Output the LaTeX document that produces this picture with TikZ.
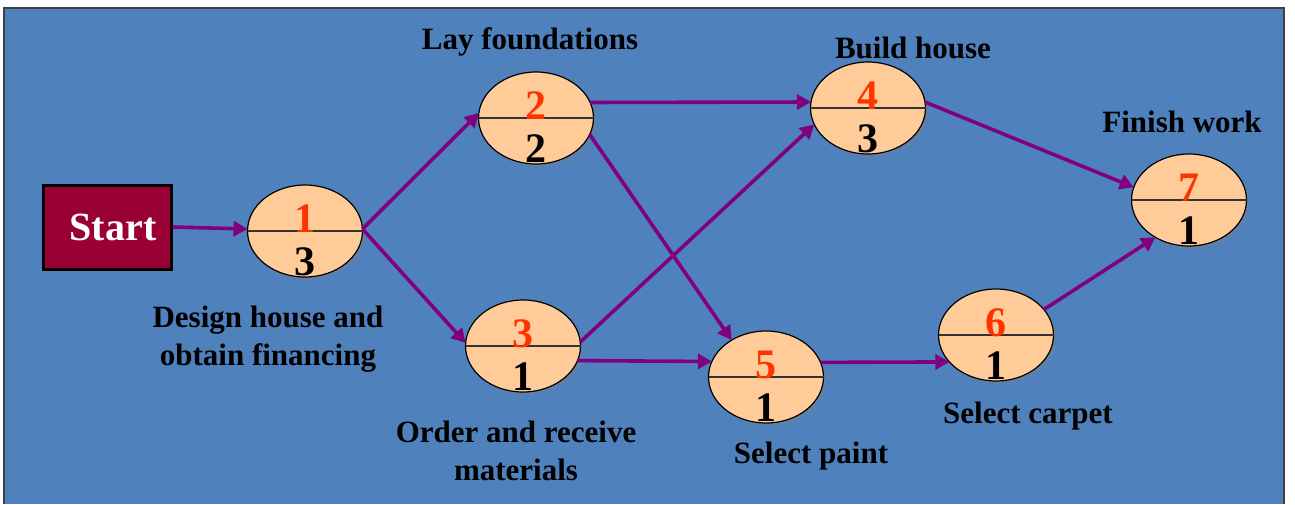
\documentclass[tikz,border=0pt]{standalone}
\usepackage{fontspec}
\setmainfont{Liberation Serif}
\usetikzlibrary{calc,positioning,shapes.geometric,shadows,arrows.meta}
\definecolor{bgblue}{RGB}{79,129,189}
\definecolor{startred}{RGB}{153,0,51}
\definecolor{peach}{RGB}{255,204,153}
\definecolor{arrowpurple}{RGB}{128,0,128}
\definecolor{numred}{RGB}{255,51,0}
\newcommand{\evnums}[3]{%
	\draw[line width=1.2pt, black!80] (#1.west) -- (#1.east);
	\node[topnum] (#1t) at ($(#1)+(0,1)$) {#2};
	\node[botnum] (#1b) at ($(#1)+(0,44)$) {#3};
}

\begin{document}
\begin{tikzpicture}[x=1pt, y=-1pt,
	event/.style={ellipse, draw, line width=1.2pt, fill=peach, minimum width=115pt, minimum height=92pt, inner sep=0pt, outer sep=0pt, drop shadow={shadow xshift=3pt, shadow yshift=-3pt, opacity=0.35}},
	startbox/.style={draw, line width=3pt, fill=startred, text=white, font=\fontsize{40}{40}\selectfont\bfseries, minimum width=128pt, minimum height=84pt, drop shadow={shadow xshift=3pt, shadow yshift=-3pt, opacity=0.3}},
	topnum/.style={font=\fontsize{42}{42}\selectfont\bfseries, text=numred, anchor=base, inner sep=0pt},
	botnum/.style={font=\fontsize{42}{42}\selectfont\bfseries, text=black, anchor=base, inner sep=0pt},
	lbl/.style={font=\fontsize{31}{38}\selectfont\bfseries, inner sep=0pt, align=center},
	arr/.style={draw=arrowpurple, line width=3.6pt, -{Triangle[length=14pt, width=15pt]}}]
	\useasboundingbox (0,0) rectangle (1295,504);
	\fill[bgblue] (4,8) rectangle (1284,504);
	\draw[line width=2pt, black!75] (4,504) -- (4,8) -- (1284,8) -- (1284,504);
	
	\node[startbox] (start) at (107,227) {\hspace{12pt}Start};
	\node[event] (n1) at (305,231) {};
	\node[event] (n2) at ($(n1)+(231,-113)$) {};
	\node[event] (n3) at ($(n1)+(218,115)$) {};
	\node[event] (n4) at ($(n2)+(332,-10)$) {};
	\node[event] (n5) at ($(n3)+(243,31)$) {};
	\node[event] (n6) at ($(n5)+(230,-42)$) {};
	\node[event] (n7) at ($(n6)+(193,-135)$) {};
	
	\evnums{n1}{1}{3}
	\evnums{n2}{2}{2}
	\evnums{n3}{3}{1}
	\evnums{n4}{4}{3}
	\evnums{n5}{5}{1}
	\evnums{n6}{6}{1}
	\evnums{n7}{7}{1}
	
	\node[lbl] (l1) at ($(n1)+(-37,108)$) {Design house and\\obtain financing};
	\node[lbl, anchor=base] (l2) at ($(n2)+(-6,-69)$) {Lay foundations};
	\node[lbl] (l3) at ($(n3)+(-7,105)$) {Order and receive\\materials};
	\node[lbl, anchor=base] (l4) at ($(n4)+(45,-50)$) {Build house};
	\node[lbl, anchor=base] (l5) at ($(n5)+(45,86)$) {Select paint};
	\node[lbl, anchor=base] (l6) at ($(n6)+(32,88)$) {Select carpet};
	\node[lbl, anchor=base] (l7) at ($(n7)+(-7,-68)$) {Finish work};
	
	\draw[arr] (start.east) -- (n1.178);
	\draw[arr] (n1.2) -- (n2.175);
	\draw[arr] (n1.2) -- (n3.177);
	\draw[arr] (n2.16) -- (n4.174);
	\draw[arr] (n2.-17) -- (n5.133);
	\draw[arr] (n3.4) -- (n4.197);
	\draw[arr] (n3.-15) -- (n5.164);
	\draw[arr] (n4.6) -- (n7.167);
	\draw[arr] (n5.15) -- (n6.210);
	\draw[arr] (n6.28) -- (n7.228);
\end{tikzpicture}
\end{document}
